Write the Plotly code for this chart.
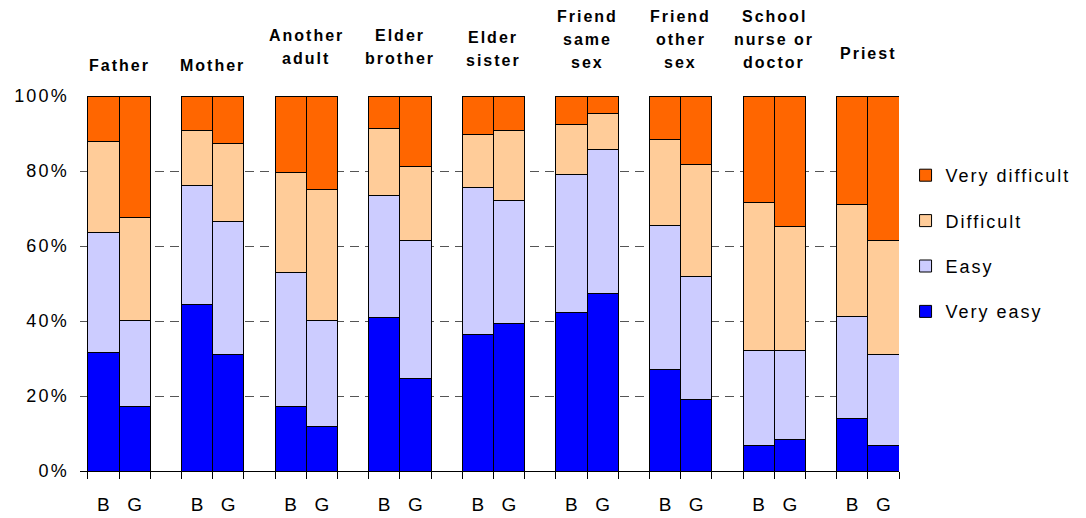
import plotly.graph_objects as go

# ---- data ----
groups = [["Father"], ["Mother"], ["Another", "adult"], ["Elder", "brother"],
          ["Elder", "sister"], ["Friend", "same", "sex"], ["Friend", "other", "sex"],
          ["School", "nurse or", "doctor"], ["Priest"]]
genders = ["B", "G"]

very_easy_b = [31.6, 44.4, 17.1, 40.9, 36.3, 42.3, 27.2, 6.9, 14.0]
very_easy_g = [17.1, 31.2, 12.0, 24.6, 39.3, 47.4, 19.2, 8.5, 6.9]
easy_b = [31.9, 31.7, 35.8, 32.7, 39.3, 36.8, 38.3, 25.3, 27.3]
easy_g = [23.1, 35.3, 28.2, 36.9, 32.8, 38.3, 32.7, 23.7, 24.3]
difficult_b = [24.3, 14.7, 26.8, 17.7, 14.2, 13.4, 22.8, 39.4, 29.8]
difficult_g = [27.4, 20.8, 35.0, 19.8, 18.7, 9.7, 29.8, 32.9, 30.3]
very_difficult_b = [12.2, 9.2, 20.3, 8.7, 10.2, 7.5, 11.7, 28.4, 28.9]
very_difficult_g = [32.4, 12.7, 24.8, 18.7, 9.2, 4.6, 18.3, 34.9, 38.5]

y_ticks = [0, 20, 40, 60, 80, 100]

# ---- layout helpers ----
# the page body adds an 8px offset; size the figure so it fits the window
OFF = 8
W, H = 1086 - OFF, 518 - OFF
M_L, M_R, M_T, M_B = 80 - OFF, 187, 96 - OFF, 47
PLOT_H = H - M_T - M_B
FONT = "Liberation Sans, Arial, sans-serif"

def py(page_pix):
    return (H - M_B - (page_pix - OFF)) / PLOT_H

def ls(text, sp):
    return f'<span style="letter-spacing:{sp}px">{text}</span>'

n = len(groups)
xs = []
for i in range(n):
    xs += [3 * i, 3 * i + 1]

def inter(b, g):
    out = []
    for u, v in zip(b, g):
        out += [u, v]
    return out

series = [
    ("Very easy", very_easy_b, very_easy_g, "#0000FF", 4),
    ("Easy", easy_b, easy_g, "#CCCCFF", 3),
    ("Difficult", difficult_b, difficult_g, "#FFCC99", 2),
    ("Very difficult", very_difficult_b, very_difficult_g, "#FF6600", 1),
]

fig = go.Figure()
for name, b, g, col, rank in series:
    fig.add_trace(go.Bar(
        x=xs, y=inter(b, g), width=[1] * len(xs),
        name=ls(name, 2.0), legendgroup=name, legendrank=rank,
        marker=dict(color=col, line=dict(color="#000000", width=1)),
    ))

# group labels above the plot (page-pixel centres of the last line)
last_line_center = [65.3, 65.3, 58.6, 58.6, 60.6, 62.6, 62.6, 62.6, 53.9]
annotations = []
for i, lines in enumerate(groups):
    k = len(lines)
    for j, line in enumerate(lines):
        yc = last_line_center[i] - (k - 1 - j) * 23
        annotations.append(dict(
            x=3 * i + 0.5, xref="x", y=py(yc), yref="paper",
            text="<b>" + ls(line, 2.0) + "</b>", showarrow=False,
            xanchor="center", yanchor="middle",
            font=dict(family=FONT, size=16, color="#000000"),
        ))

edges = []
for i in range(n):
    edges += [3 * i - 0.5, 3 * i + 0.5, 3 * i + 1.5]

fig.update_layout(
    width=W, height=H,
    margin=dict(l=M_L, r=M_R, t=M_T, b=M_B, pad=0, autoexpand=False),
    paper_bgcolor="white", plot_bgcolor="white",
    barmode="stack",
    showlegend=True,
    legend=dict(
        x=1.008, xanchor="left", y=py(157), yanchor="top",
        font=dict(family=FONT, size=18, color="#000000"),
        tracegroupgap=19, traceorder="grouped",
        bgcolor="rgba(0,0,0,0)",
    ),
    annotations=annotations,
    font=dict(family=FONT, color="#000000"),
)

fig.update_xaxes(
    range=[-0.75, 25.5], automargin=False,
    tickmode="array", tickvals=xs, ticktext=[g for _ in range(n) for g in genders],
    ticks="", showgrid=False, zeroline=False,
    showline=True, linecolor="#000000", linewidth=1,
    tickfont=dict(family=FONT, size=19, color="#000000"),
    ticklabelstandoff=16,
    minor=dict(tickmode="array", tickvals=edges, ticks="outside", ticklen=7,
               tickcolor="#000000", tickwidth=1, showgrid=False),
)

fig.update_yaxes(
    range=[0, 100], automargin=False,
    tickmode="array", tickvals=y_ticks, ticktext=[ls(f"{v}%", 2.2) for v in y_ticks],
    ticks="", showline=False, zeroline=False,
    showgrid=True, gridcolor="#555555", gridwidth=1, griddash="9px,6px",
    tickfont=dict(family=FONT, size=18, color="#000000"),
    ticklabelstandoff=10,
)

fig.write_html("out.html")
